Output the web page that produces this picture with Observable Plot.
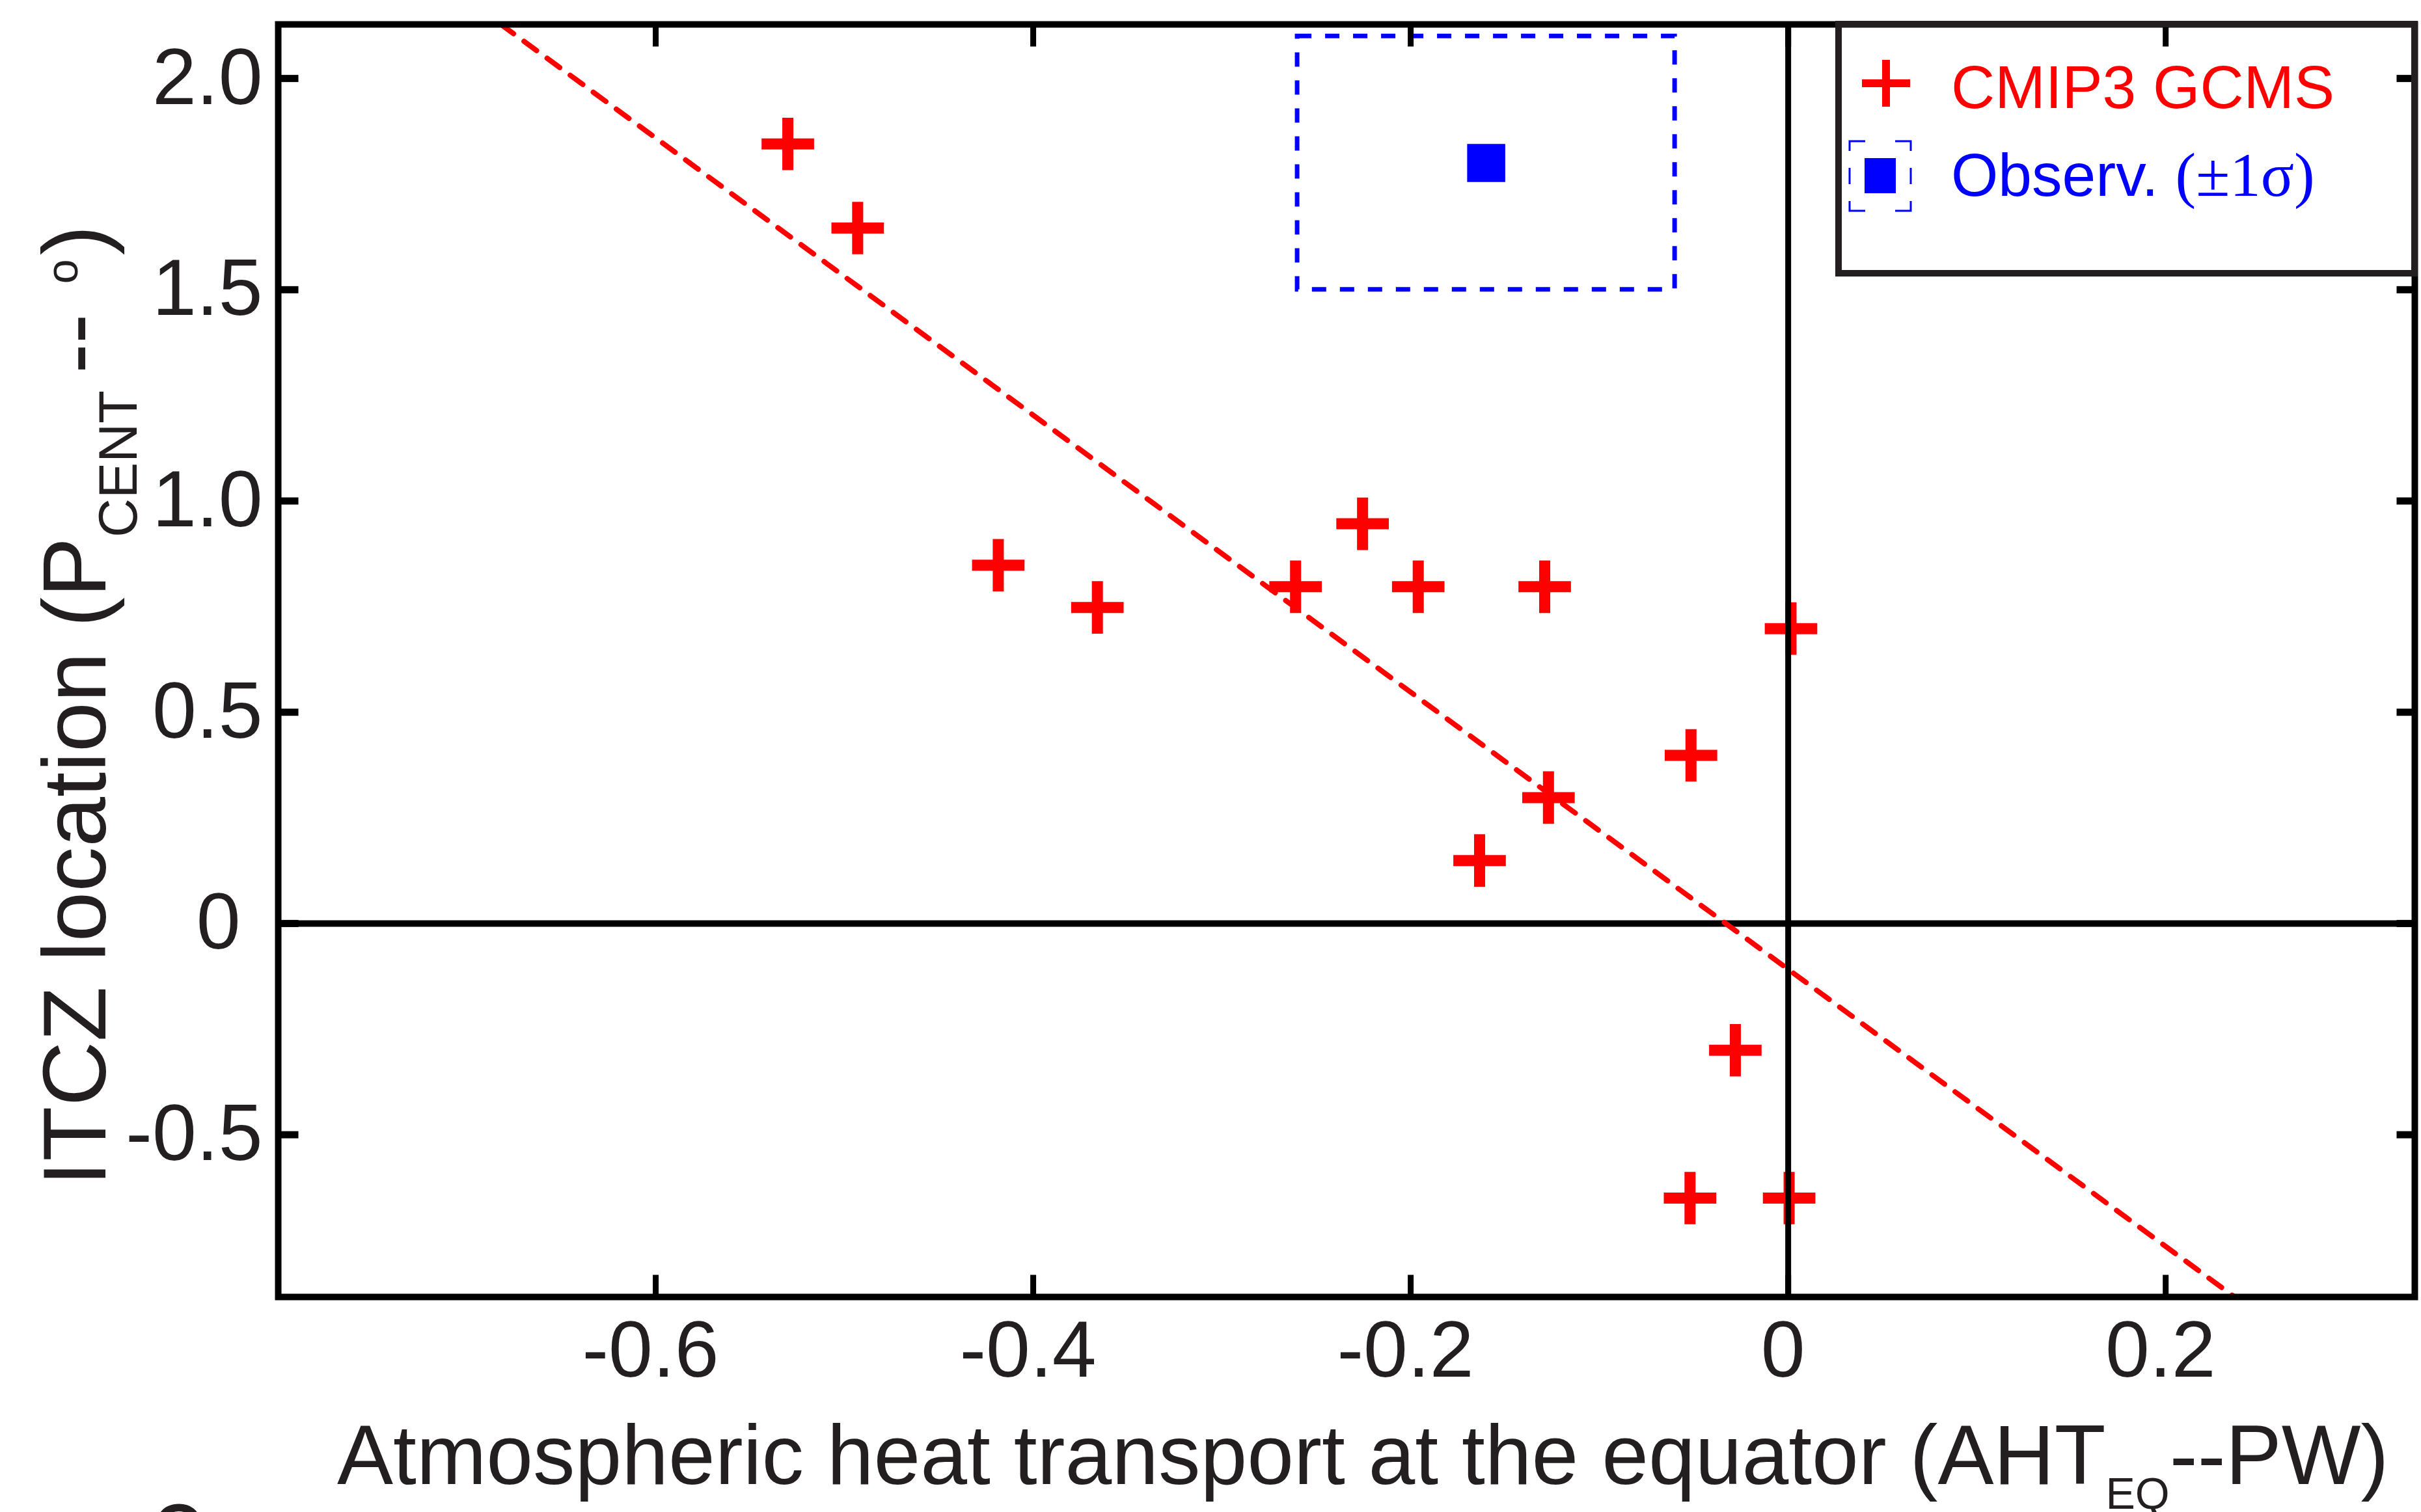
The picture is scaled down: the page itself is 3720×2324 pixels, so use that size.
<!DOCTYPE html>
<html>
<head>
<meta charset="utf-8">
<script src="https://cdn.jsdelivr.net/npm/d3@7"></script>
<script src="https://cdn.jsdelivr.net/npm/@observablehq/plot@0.6"></script>
<style>
  html, body { margin: 0; padding: 0; background: #fff; overflow: hidden; }
  #chart { position: relative; width: 3720px; height: 2324px; }
</style>
</head>
<body>
<div id="chart"></div>
<script>
// ---- data ----
const modelAHT  = [-0.530, -0.493, -0.4185, -0.366, -0.261, -0.2255, -0.196, -0.129, 0.0015, -0.0515, -0.127, -0.1635, -0.028, -0.052, 0.0005];
const modelITCZ = [ 1.845,  1.646,  0.848,   0.748,  0.797,  0.946,   0.797,  0.797, 0.698,   0.398,   0.298,  0.149,  -0.300, -0.650, -0.650];

const obsAHT = [-0.16];
const obsITCZ = [1.80];
const obsAHTLow = [-0.26];
const obsAHTHigh = [-0.06];
const obsITCZLow = [1.50];
const obsITCZHigh = [2.10];

// dashed fit line: where it meets the top and bottom of the frame
const fitAHT  = [-0.682, 0.2365];
const fitITCZ = [ 2.128, -0.884];

const xDomain = [-0.8, 0.332];
const yDomain = [-0.884, 2.128];
const xTicks = [-0.6, -0.4, -0.2, 0, 0.2];
const xTickLabels = ["-0.6", "-0.4", "-0.2", "0", "0.2"];
const yTicks = [-0.5, 0, 0.5, 1.0, 1.5, 2.0];
const yTickLabels = ["-0.5", "0\u2008", "0.5", "1.0", "1.5", "2.0"];

const legendModels = "CMIP3 GCMS";
const legendObs = "Observ. ";
const legendObsSigma = "(\u00B11\u03C3)";

const xLabelMain = "Atmospheric heat transport at the equator (AHT";
const xLabelSub = "EQ";
const xLabelEnd = "--PW)";
const yLabelMain = "ITCZ location (P";
const yLabelSub = "CENT";
const yLabelDash = "--";
const yLabelSup = "o";
const yLabelEnd = ")";

// ---- tables built from the arrays ----
const models = modelAHT.map((x, i) => ({x, y: modelITCZ[i]}));
const obs = obsAHT.map((x, i) => ({
  x, y: obsITCZ[i],
  x1: obsAHTLow[i], x2: obsAHTHigh[i],
  y1: obsITCZLow[i], y2: obsITCZHigh[i]
}));
const fit = fitAHT.map((x, i) => ({x, y: fitITCZ[i]}));
const xLab = new Map(xTicks.map((t, i) => [t, xTickLabels[i]]));
const yLab = new Map(yTicks.map((t, i) => [t, yTickLabels[i]]));

const RED = "#ff0000", BLUE = "#0000ff", INK = "#231f20";
const tickShape = {draw(context, l) { context.moveTo(0, 0); context.lineTo(0, -l); }};
const tickOpts = {anchor: "start", shape: tickShape, stroke: "black", strokeLinecap: "butt"};

const chart = Plot.plot({
  width: 3720,
  height: 2324,
  marginLeft: 427,
  marginRight: 10,
  marginTop: 37,
  marginBottom: 331,
  x: {domain: xDomain},
  y: {domain: yDomain},
  style: {fontFamily: "'Liberation Sans', Arial, sans-serif", color: INK, background: "white"},
  marks: [
    Plot.rect(obs, {x1: "x1", x2: "x2", y1: "y1", y2: "y2", fill: "none", stroke: BLUE, strokeWidth: 7, strokeDasharray: "22,21"}),
    Plot.dot(models, {x: "x", y: "y", symbol: "plus", r: 26, stroke: RED, strokeWidth: 17, strokeLinecap: "butt"}),
    Plot.dot(obs, {x: "x", y: "y", symbol: "square", r: 33, fill: BLUE, stroke: "none"}),
    Plot.ruleY([0], {stroke: "black", strokeWidth: 10}),
    Plot.ruleX([0], {stroke: "black", strokeWidth: 9}),
    Plot.line(fit, {x: "x", y: "y", stroke: RED, strokeWidth: 8, strokeDasharray: "24,20"}),
    Plot.frame({stroke: "black", strokeWidth: 10}),
    // inward ticks on all four sides
    Plot.vector(xTicks, {x: d => d, frameAnchor: "bottom", rotate: 0, length: 34, strokeWidth: 9, ...tickOpts}),
    Plot.vector(xTicks, {x: d => d, frameAnchor: "top", rotate: 180, length: 34, strokeWidth: 9, ...tickOpts}),
    Plot.vector(yTicks, {y: d => d, frameAnchor: "left", rotate: 90, length: 31, strokeWidth: 11, ...tickOpts}),
    Plot.vector(yTicks, {y: d => d, frameAnchor: "right", rotate: -90, length: 28, strokeWidth: 11, ...tickOpts}),
    Plot.axisX({anchor: "bottom", ticks: xTicks, tickFormat: d => xLab.get(d), tickSize: 0, tickPadding: 36, label: null, fontSize: 122, fill: INK, dx: -8}),
    Plot.axisY({anchor: "left", ticks: yTicks, tickFormat: d => yLab.get(d), tickSize: 0, tickPadding: 24, label: null, fontSize: 122, fill: INK})
  ]
});

document.getElementById("chart").appendChild(chart);

const svg = d3.select(chart);
const SANS = "'Liberation Sans', Arial, sans-serif";
const SERIF = "'Liberation Serif', 'Times New Roman', serif";

// x-axis title with subscript
const xt = svg.append("text")
  .attr("x", 518).attr("y", 2281).attr("text-anchor", "start")
  .attr("font-family", SANS).attr("font-size", 129).attr("fill", INK);
xt.append("tspan").text(xLabelMain);
xt.append("tspan").attr("font-size", 68).attr("dy", 38).text(xLabelSub);
xt.append("tspan").attr("font-size", 129).attr("dy", -38).text(xLabelEnd);

// y-axis title with subscript and superscript
const yt = svg.append("text")
  .attr("transform", "translate(162,1823) rotate(-90)").attr("text-anchor", "start")
  .attr("font-family", SANS).attr("font-size", 138).attr("fill", INK);
yt.append("tspan").text(yLabelMain);
yt.append("tspan").attr("font-size", 83).attr("dy", 48).text(yLabelSub);
yt.append("tspan").attr("font-size", 138).attr("dy", -48).attr("dx", 26).text(yLabelDash);
yt.append("tspan").attr("font-size", 68).attr("dx", 46).attr("dy", -43).text(yLabelSup);
yt.append("tspan").attr("font-size", 138).attr("dx", 6).attr("dy", 43).text(yLabelEnd);

// panel letter cut off at the bottom edge
svg.append("text").attr("x", 272).attr("y", 2400).attr("text-anchor", "middle")
  .attr("font-family", SANS).attr("font-size", 165).attr("fill", INK).text("c");

// legend box
const lg = svg.append("g");
lg.append("rect").attr("x", 2825).attr("y", 37).attr("width", 885).attr("height", 383)
  .attr("fill", "none").attr("stroke", INK).attr("stroke-width", 10);
lg.append("path").attr("d", "M2861,128H2935M2898,92V164")
  .attr("stroke", RED).attr("stroke-width", 12).attr("fill", "none");
lg.append("text").attr("x", 2998).attr("y", 166).attr("text-anchor", "start")
  .attr("font-family", SANS).attr("font-size", 93).attr("fill", RED).text(legendModels);
const og = lg.append("g").attr("transform", "translate(2842,217)");
og.append("path")
  .attr("d", "M0,15V0H24M70,0H94V15M0,41V66M94,41V66M0,92V107H24M70,107H94V92")
  .attr("stroke", BLUE).attr("stroke-width", 3).attr("fill", "none");
og.append("rect").attr("x", 23).attr("y", 26).attr("width", 48).attr("height", 54).attr("fill", BLUE);
const ot = lg.append("text").attr("x", 2998).attr("y", 301).attr("text-anchor", "start")
  .attr("font-family", SANS).attr("font-size", 93).attr("fill", BLUE);
ot.append("tspan").text(legendObs);
ot.append("tspan").attr("font-family", SERIF).attr("font-size", 95).text(legendObsSigma);
</script>
</body>
</html>
